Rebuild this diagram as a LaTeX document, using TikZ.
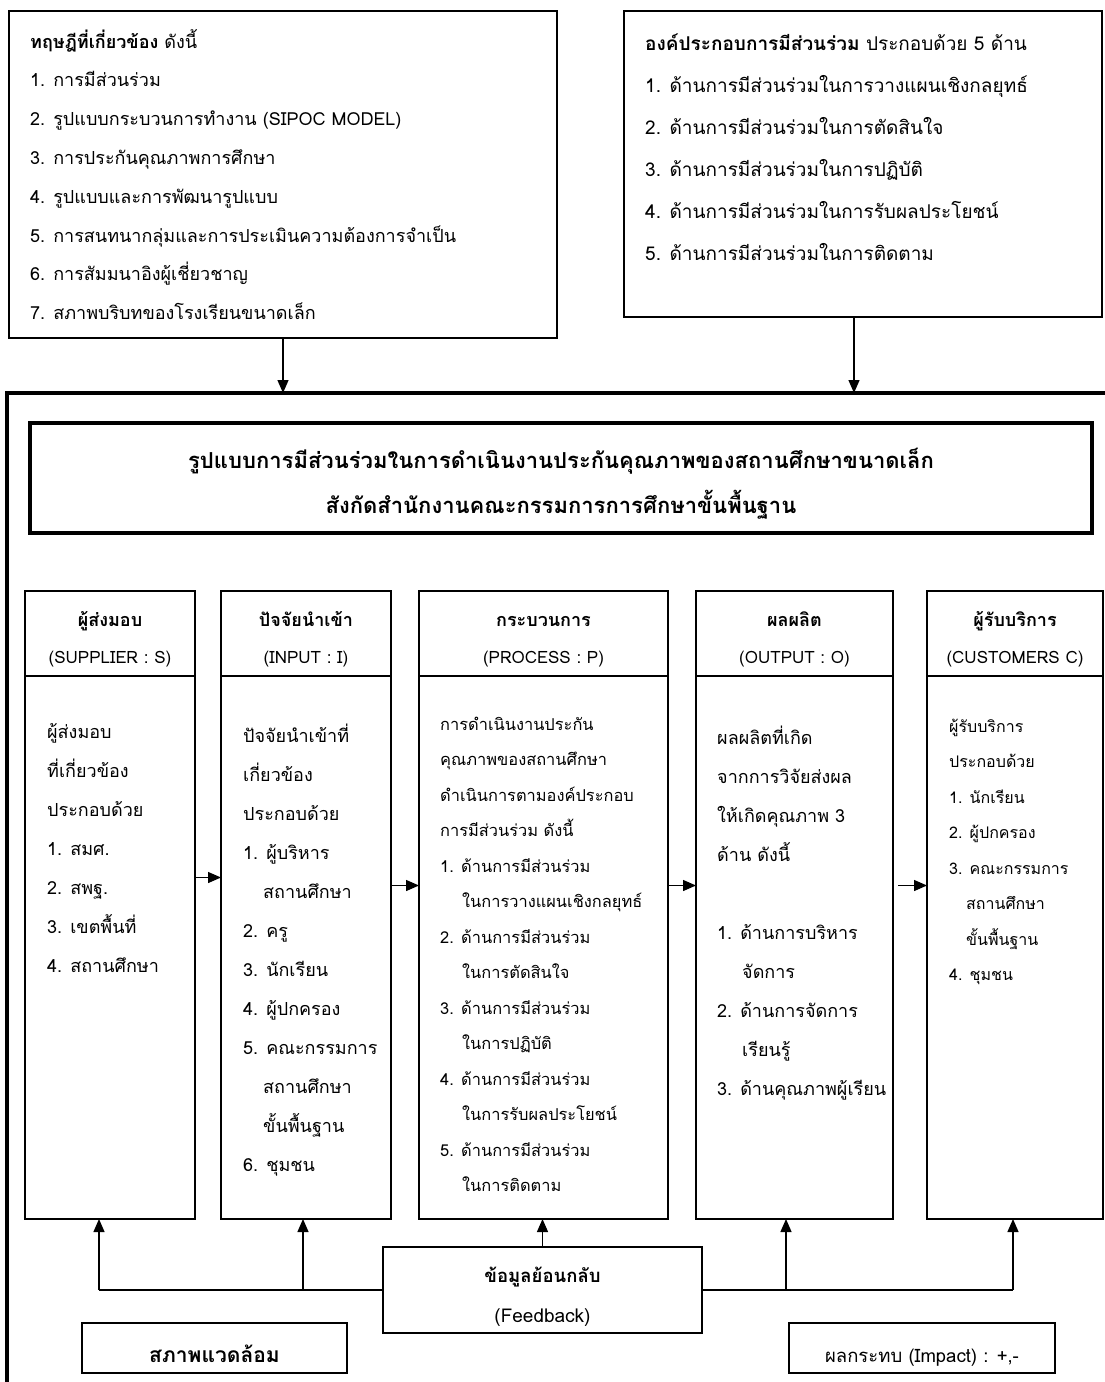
\documentclass[tikz,border=0pt]{standalone}
\usepackage{fontspec}
\setmainfont{Loma}[Script=Thai]
\usetikzlibrary{arrows.meta,positioning}
\newcommand{\headline}[1]{{\fontsize{18}{37}\selectfont\bfseries\strut #1}}

\begin{document}
\begin{tikzpicture}[x=1pt,y=-1pt,
   box/.style={draw,rectangle,line width=1.5pt,inner sep=0pt,outer sep=0pt},
   head/.style={box,line width=2pt,align=center,font=\fontsize{17}{37}\selectfont},
   body/.style={box,line width=2pt},
   txt/.style={anchor=north west,inner sep=0pt,align=left},
   arr/.style={-{Triangle[length=13pt,width=11pt]},line width=1.3pt}]
   \useasboundingbox (0,0) rectangle (1105,1382);
   \fill[white] (0,0) rectangle (1105,1382);
   \clip (0,0) rectangle (1105,1382);

   \node (theory) at (283,174.5) [box,minimum width=548pt,minimum height=327pt] {};
   \node (theorytext) at (30,20.8) [txt,font=\fontsize{18}{38.8}\selectfont] {\strut\textbf{ทฤษฎีที่เกี่ยวข้อง} ดังนี้\\
      1. การมีส่วนร่วม\\
      2. รูปแบบกระบวนการทำงาน (SIPOC MODEL)\\
      3. การประกันคุณภาพการศึกษา\\
      4. รูปแบบและการพัฒนารูปแบบ\\
      5. การสนทนากลุ่มและการประเมินความต้องการจำเป็น\\
      6. การสัมมนาอิงผู้เชี่ยวชาญ\\
      7. สภาพบริบทของโรงเรียนขนาดเล็ก};
   \node (element) at (863,164) [box,minimum width=478pt,minimum height=306pt] {};
   \node (elementtext) at (645,20.6) [txt,font=\fontsize{19}{42}\selectfont] {\strut\textbf{องค์ประกอบการมีส่วนร่วม} ประกอบด้วย 5 ด้าน\\
      1. ด้านการมีส่วนร่วมในการวางแผนเชิงกลยุทธ์\\
      2. ด้านการมีส่วนร่วมในการตัดสินใจ\\
      3. ด้านการมีส่วนร่วมในการปฏิบัติ\\
      4. ด้านการมีส่วนร่วมในการรับผลประโยชน์\\
      5. ด้านการมีส่วนร่วมในการติดตาม};

   \node (frame) at (567,898) [box,line width=4.5pt,minimum width=1120pt,minimum height=1010pt] {};
   \coordinate (elemfoot) at ([xshift=-9pt]element.south);
   \draw[arr] (theory.south) -- (theory.south |- frame.north);
   \draw[arr] (elemfoot) -- (elemfoot |- frame.north);

   \node (title) at (561,478) [box,line width=4.5pt,minimum width=1062pt,minimum height=110pt,align=center,font=\bfseries\fontsize{22}{45}\selectfont] {\strut รูปแบบการมีส่วนร่วมในการดำเนินงานประกันคุณภาพของสถานศึกษาขนาดเล็ก\\สังกัดสำนักงานคณะกรรมการการศึกษาขั้นพื้นฐาน};

   \node (suphead) at (110,633.5) [head,minimum width=170pt,minimum height=85pt] {\headline{ผู้ส่งมอบ}\\(SUPPLIER : S)};
   \node (inphead) at (306,633.5) [head,minimum width=170pt,minimum height=85pt] {\headline{ปัจจัยนำเข้า}\\(INPUT : I)};
   \node (prochead) at (543.5,633.5) [head,minimum width=249pt,minimum height=85pt] {\headline{กระบวนการ}\\(PROCESS : P)};
   \node (outhead) at (794.5,633.5) [head,minimum width=197pt,minimum height=85pt] {\headline{ผลผลิต}\\(OUTPUT : O)};
   \node (cushead) at (1015,633.5) [head,minimum width=176pt,minimum height=85pt] {\headline{ผู้รับบริการ}\\(CUSTOMERS C)};
   \node (supbody) [body,minimum width=170pt,minimum height=543pt,below=0pt of suphead] {};
   \node (inpbody) [body,minimum width=170pt,minimum height=543pt,below=0pt of inphead] {};
   \node (procbody) [body,minimum width=249pt,minimum height=543pt,below=0pt of prochead] {};
   \node (outbody) [body,minimum width=197pt,minimum height=543pt,below=0pt of outhead] {};
   \node (cusbody) [body,minimum width=176pt,minimum height=543pt,below=0pt of cushead] {};

   \node (suptext) at (47,710.7) [txt,font=\fontsize{18}{39}\selectfont] {\strut ผู้ส่งมอบ\\ที่เกี่ยวข้อง\\ประกอบด้วย\\1. สมศ.\\2. สพฐ.\\3. เขตพื้นที่\\4. สถานศึกษา};
   \node (inptext) at (243,714.7) [txt,font=\fontsize{18}{39}\selectfont] {\strut ปัจจัยนำเข้าที่\\เกี่ยวข้อง\\ประกอบด้วย\\1. ผู้บริหาร\\\hspace*{20pt}สถานศึกษา\\2. ครู\\3. นักเรียน\\4. ผู้ปกครอง\\5. คณะกรรมการ\\\hspace*{20pt}สถานศึกษา\\\hspace*{20pt}ขั้นพื้นฐาน\\6. ชุมชน};
   \node (proctext) at (440,705) [txt,font=\fontsize{16.4}{35.5}\selectfont] {\strut การดำเนินงานประกัน\\คุณภาพของสถานศึกษา\\ดำเนินการตามองค์ประกอบ\\การมีส่วนร่วม ดังนี้\\1. ด้านการมีส่วนร่วม\\\hspace*{22pt}ในการวางแผนเชิงกลยุทธ์\\2. ด้านการมีส่วนร่วม\\\hspace*{22pt}ในการตัดสินใจ\\3. ด้านการมีส่วนร่วม\\\hspace*{22pt}ในการปฏิบัติ\\4. ด้านการมีส่วนร่วม\\\hspace*{22pt}ในการรับผลประโยชน์\\5. ด้านการมีส่วนร่วม\\\hspace*{22pt}ในการติดตาม};
   \node (outtext) at (717,716.7) [txt,font=\fontsize{18}{39}\selectfont] {\strut ผลผลิตที่เกิด\\จากการวิจัยส่งผล\\ให้เกิดคุณภาพ 3\\ด้าน ดังนี้\\[39pt]1. ด้านการบริหาร\\\hspace*{25pt}จัดการ\\2. ด้านการจัดการ\\\hspace*{25pt}เรียนรู้\\3. ด้านคุณภาพผู้เรียน};
   \node (custext) at (949,707) [txt,font=\fontsize{16}{35.5}\selectfont] {\strut ผู้รับบริการ\\ประกอบด้วย\\1. นักเรียน\\2. ผู้ปกครอง\\3. คณะกรรมการ\\\hspace*{17pt}สถานศึกษา\\\hspace*{17pt}ขั้นพื้นฐาน\\4. ชุมชน};

   \draw[arr] ([yshift=70pt]supbody.east) -- ([yshift=70pt]inpbody.west);
   \draw[arr] ([yshift=62pt]inpbody.east) -- ([yshift=62pt]procbody.west);
   \draw[arr] ([yshift=62pt]procbody.east) -- ([yshift=62pt]outbody.west);
   \draw[arr] ([yshift=62pt,xshift=5pt]outbody.east) -- ([yshift=62pt]cusbody.west);

   \node (feedback) at (542.5,1290) [box,line width=2.2pt,minimum width=319pt,minimum height=86pt,align=center,font=\fontsize{19}{40}\selectfont] {{\fontsize{18.5}{40}\selectfont\bfseries\strut ข้อมูลย้อนกลับ}\\(Feedback)};
   \coordinate (fbsup) at (99,1290);
   \coordinate (fbinp) at (303,1290);
   \coordinate (fbout) at (786,1290);
   \coordinate (fbcus) at (1013,1290);
   \draw[line width=1.3pt] (fbsup) -- (feedback.west) (feedback.east) -- (fbcus);
   \draw[arr] (fbsup) -- (fbsup |- supbody.south);
   \draw[arr] (fbinp) -- (fbinp |- inpbody.south);
   \draw[arr] (feedback.north) -- (feedback.north |- procbody.south);
   \draw[arr] (fbout) -- (fbout |- outbody.south);
   \draw[arr] (fbcus) -- (fbcus |- cusbody.south);

   \node (env) at (214.5,1348) [box,line width=2.2pt,minimum width=265pt,minimum height=50pt,text height=28pt,text depth=0pt,font=\bfseries\fontsize{21}{24}\selectfont] {สภาพแวดล้อม};
   \node (impact) at (922,1348) [box,line width=2.2pt,minimum width=266pt,minimum height=50pt,text height=28pt,text depth=0pt,font=\fontsize{18.5}{24}\selectfont] {ผลกระทบ (Impact) : +,-};
\end{tikzpicture}
\end{document}
